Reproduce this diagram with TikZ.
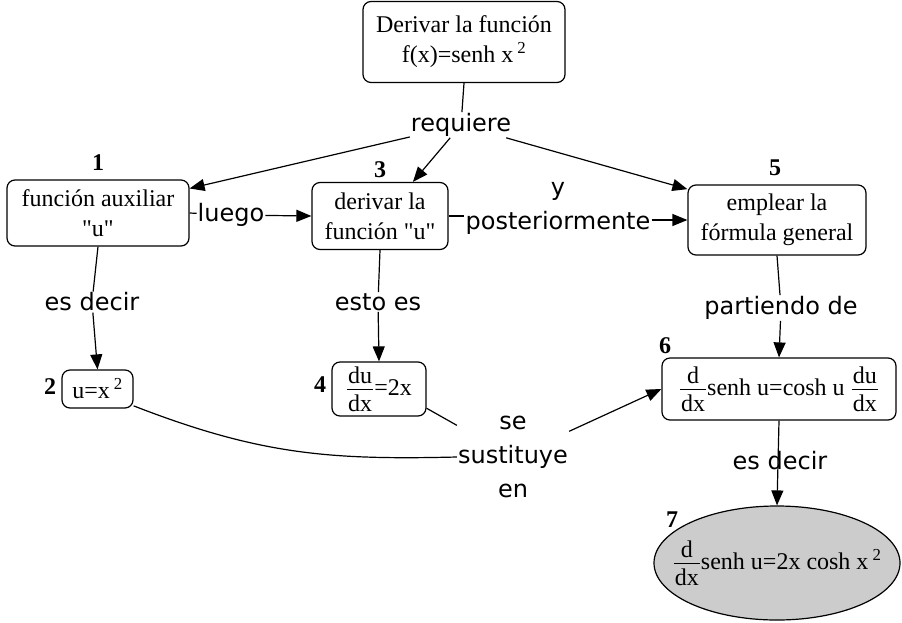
\documentclass[tikz,border=0pt]{standalone}
\usepackage{amsmath}
\usepackage{fontspec}
\setmainfont{Liberation Serif}[Ligatures=TeXOff]
\newfontfamily\lblfamily{DejaVu Sans}
\usetikzlibrary{arrows.meta,shapes.geometric}

% fraction set in the text font at full size, with a little room around the bar
\newcommand{\fracx}[2]{$\genfrac{}{}{0.7pt}{1}%
  {\hbox{\kern1pt#1\kern1pt\rule[-5pt]{0pt}{5pt}}}%
  {\hbox{\kern1pt\rule{0pt}{21pt}#2\kern1pt}}$}
\newcommand{\sqx}{x\,\textsuperscript{2}}

\tikzset{
  box/.style={draw, rounded corners=8pt, line width=1.2pt, align=center,
    inner sep=0pt, font=\fontsize{24}{30}\selectfont},
  lbl/.style={font=\lblfamily\fontsize{24}{34}\selectfont, inner sep=1pt, align=center},
  num/.style={font=\fontsize{24}{28}\selectfont\bfseries, inner sep=0pt},
  ln/.style={line width=1.2pt},
  arr/.style={line width=1.2pt, -{Triangle[length=15pt,width=12pt]}},
}

\begin{document}
\begin{tikzpicture}[x=1pt,y=-1pt]
  \useasboundingbox (0,0) rectangle (902,622);

  % concept boxes
  \node[box, minimum width=202pt, minimum height=81pt] (top) at (464,42)
    {Derivar la función\\f(x)=senh \sqx};
  \node[box, minimum width=182pt, minimum height=66pt] (b1) at (98,213)
    {función auxiliar\\"u"};
  \node[box, minimum width=136pt, minimum height=67pt] (b3) at (380,216)
    {derivar la\\función "u"};
  \node[box, minimum width=178pt, minimum height=70pt] (b5) at (777,220)
    {emplear la\\fórmula general};
  \node[box, minimum width=71pt, minimum height=38pt] (b2) at (97.5,389)
    {u=\sqx};
  \node[box, minimum width=94pt, minimum height=54pt] (b4) at (379,389)
    {\fracx{du}{dx}=2x};
  \node[box, minimum width=234pt, minimum height=62pt] (b6) at (779,389)
    {\fracx{d}{dx}senh u=cosh u \fracx{du}{dx}};
  \node[draw, ellipse, line width=1.2pt, fill=gray!40, inner ysep=0pt,
    inner xsep=-20pt, minimum width=246pt, minimum height=114pt,
    font=\fontsize{24}{30}\selectfont] (e7) at (777,563)
    {\fracx{d}{dx}senh u=2x cosh \sqx};

  % step numbers
  \node[num] (n1) at (98,163) {1};
  \node[num] (n2) at (50,387) {2};
  \node[num] (n3) at (380,170) {3};
  \node[num] (n4) at (320,385) {4};
  \node[num] (n5) at (775,168) {5};
  \node[num] (n6) at (665,346) {6};
  \node[num] (n7) at (672,520) {7};

  % linking phrases
  \node[lbl] (req) at (461,125) {requiere};
  \node[lbl] (lue) at (231,215) {luego};
  \node[lbl] (yp) at (558,208) {y\\posteriormente};
  \node[lbl] (ed1) at (92,302) {es decir};
  \node[lbl] (ee) at (378,302) {esto es};
  \node[lbl] (pd) at (781,308) {partiendo de};
  \node[lbl] (sse) at (513,457) {se\\sustituye\\en};

  % connectors
  \draw[ln] (top.south) -- (req);
  \draw[arr] (req) -- (b1.15);
  \draw[arr] (req) -- (b3.46);
  \draw[arr] (req) -- (b5.161);

  \draw[ln] (b1.east) -- (lue);
  \draw[arr] (lue) -- (b3.west);

  \draw[ln] (b3.east) -- (b3.east -| yp.west);
  \draw[arr] (yp.east |- b5.west) -- (b5.west);

  \draw[ln] (b1.south) -- (ed1);
  \draw[arr] (ed1) -- (b2.north);

  \draw[ln] (b3.south) -- (ee);
  \draw[arr] (ee) -- (b4.north);

  \draw[ln] (b5.south) -- (pd);
  \draw[arr] (pd) -- (b6.north);

  \draw[arr] (b6.south) -- (e7.north);
  \node[lbl] (ed2) at (780,461) {es decir};

  \draw[ln] (b4.-22) -- (sse);
  \draw[ln] (b2.-25) .. controls (260,455) and (330,460) .. (sse.west);
  \draw[arr] (sse) -- (b6.west);
\end{tikzpicture}
\end{document}
